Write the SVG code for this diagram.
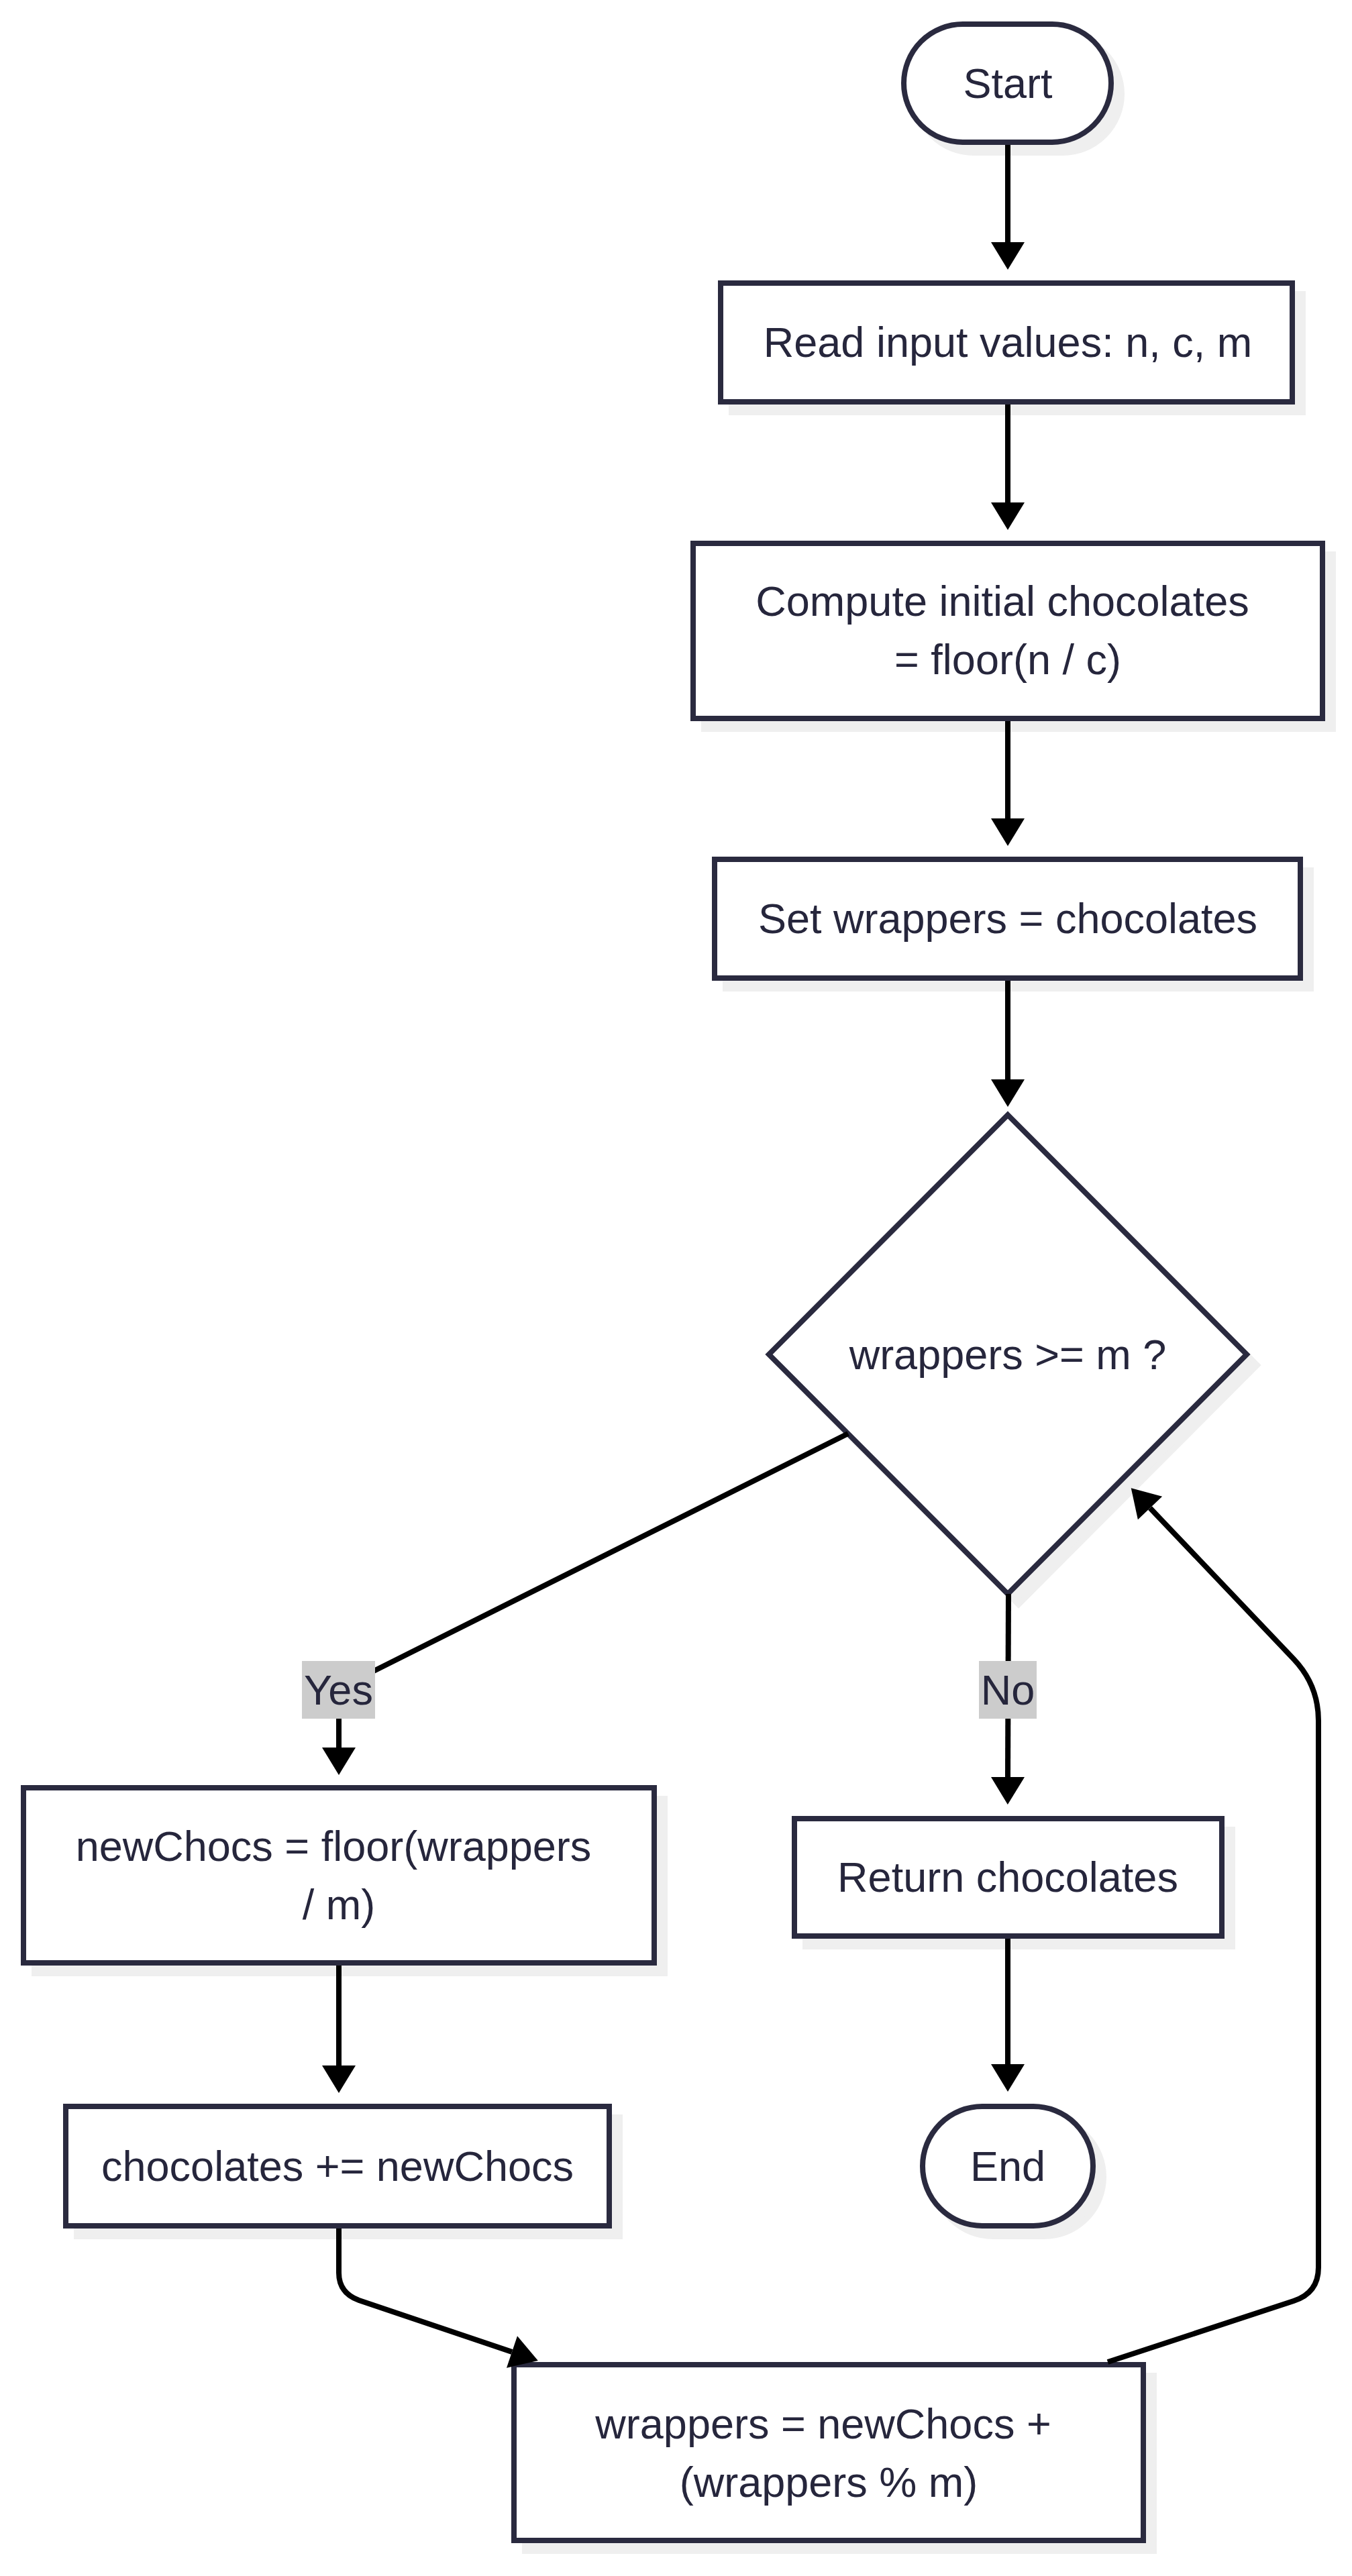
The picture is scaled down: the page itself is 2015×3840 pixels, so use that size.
<svg xmlns="http://www.w3.org/2000/svg" width="2015" height="3840" viewBox="0 0 2015 3840">
<style>
.n{fill:#ffffff;stroke:#2a2a3f;stroke-width:8}
.sh{fill:#efefef;stroke:#efefef;stroke-width:8}
.t{font-family:"Liberation Sans",Arial,sans-serif;font-size:63px;fill:#26263c;text-anchor:middle}
.c{fill:none;stroke:#000000;stroke-width:8;marker-end:url(#ah)}
.lb{fill:#cccccc}
</style>
<defs>
<marker id="ah" markerUnits="userSpaceOnUse" markerWidth="42" markerHeight="50" viewBox="0 0 41 50" refX="0" refY="25" orient="auto" overflow="visible">
<path d="M0,0 L41,25 L0,50 z" fill="#000000"/>
</marker>
</defs>
<rect width="2015" height="3840" fill="#ffffff"/>

<g id="start">
<rect class="sh" x="1363" y="52" width="309" height="176" rx="88"/>
<rect class="n" x="1347" y="36" width="309" height="176" rx="88"/>
<text class="t" x="1502" y="146">Start</text>
</g>

<g id="read">
<rect class="sh" x="1090" y="438" width="852" height="177"/>
<rect class="n" x="1074" y="422" width="852" height="177"/>
<text class="t" x="1502" y="532">Read input values: n, c, m</text>
</g>

<g id="compute">
<rect class="sh" x="1049" y="826" width="938" height="261"/>
<rect class="n" x="1033" y="810" width="938" height="261"/>
<text class="t" x="1494" y="918">Compute initial chocolates</text>
<text class="t" x="1502" y="1005">= floor(n / c)</text>
</g>

<g id="setw">
<rect class="sh" x="1081" y="1297" width="873" height="177"/>
<rect class="n" x="1065" y="1281" width="873" height="177"/>
<text class="t" x="1502" y="1391">Set wrappers = chocolates</text>
</g>

<g id="decision">
<polygon class="sh" points="1518,1678 1874,2035 1518,2392 1162,2035"/>
<polygon class="n" points="1502,1662 1858,2019 1502,2376 1146,2019"/>
<text class="t" x="1502" y="2041">wrappers &gt;= m ?</text>
</g>

<g id="newchocs">
<rect class="sh" x="51" y="2681" width="940" height="261"/>
<rect class="n" x="35" y="2665" width="940" height="261"/>
<text class="t" x="497" y="2774">newChocs = floor(wrappers</text>
<text class="t" x="505" y="2861">/ m)</text>
</g>

<g id="ret">
<rect class="sh" x="1200" y="2727" width="637" height="175"/>
<rect class="n" x="1184" y="2711" width="637" height="175"/>
<text class="t" x="1502" y="2820">Return chocolates</text>
</g>

<g id="addchocs">
<rect class="sh" x="114" y="3156" width="810" height="178"/>
<rect class="n" x="98" y="3140" width="810" height="178"/>
<text class="t" x="503" y="3251">chocolates += newChocs</text>
</g>

<g id="end">
<rect class="sh" x="1391" y="3156" width="254" height="178" rx="89"/>
<rect class="n" x="1375" y="3140" width="254" height="178" rx="89"/>
<text class="t" x="1502" y="3251">End</text>
</g>

<g id="updwrap">
<rect class="sh" x="782" y="3541" width="938" height="262"/>
<rect class="n" x="766" y="3525" width="938" height="262"/>
<text class="t" x="1227" y="3635">wrappers = newChocs +</text>
<text class="t" x="1235" y="3722">(wrappers % m)</text>
</g>

<g id="connectors">
<path class="c" d="M1502,216 L1502,361"/>
<path class="c" d="M1502,603 L1502,749"/>
<path class="c" d="M1502,1075 L1502,1220"/>
<path class="c" d="M1502,1462 L1502,1609"/>
<path class="c" d="M1264,2137 L535,2502 Q505,2517 505,2540 L505,2605"/>
<path class="c" d="M1503,2376 L1502,2649"/>
<path class="c" d="M1502,2890 L1502,3077"/>
<path class="c" d="M505,2930 L505,3079"/>
<path class="c" d="M505,3322 L505,3388 Q505,3418 535,3429 L763,3506"/>
<path class="c" d="M1651,3521 L1928,3430 Q1965,3418 1965,3380 L1965,2565 Q1965,2512 1928,2473 L1714,2248"/>
</g>

<g id="edge-labels">
<rect class="lb" x="450" y="2476" width="109" height="86"/>
<text class="t" x="504.5" y="2541">Yes</text>
<rect class="lb" x="1459" y="2476" width="86" height="86"/>
<text class="t" x="1502" y="2541">No</text>
</g>
</svg>
